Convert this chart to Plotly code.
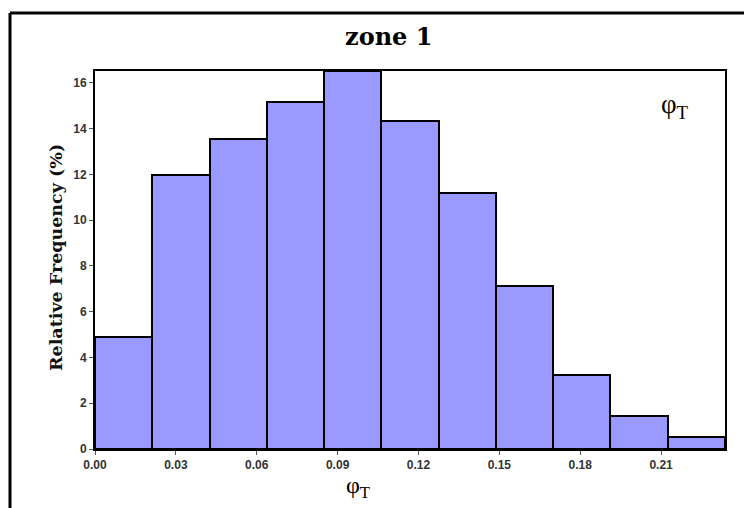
import plotly.graph_objects as go

# Data (zone 1, phi_T)
bin_edges = [0.0, 0.0212, 0.0425, 0.0637, 0.0850, 0.1062, 0.1275, 0.1487,
             0.1700, 0.1912, 0.2125, 0.2337]
rel_freq = [4.88, 11.96, 13.54, 15.18, 16.5, 14.35, 11.2, 7.11, 3.25, 1.43, 0.54]
x_ticks = [0.0, 0.03, 0.06, 0.09, 0.12, 0.15, 0.18, 0.21]
y_ticks = [0, 2, 4, 6, 8, 10, 12, 14, 16]

centers = [(a + b) / 2 for a, b in zip(bin_edges[:-1], bin_edges[1:])]
widths = [b - a for a, b in zip(bin_edges[:-1], bin_edges[1:])]

W, H = 744, 508
L, R, T, B = 95, 19, 71, 59
pw, ph = W - L - R, H - T - B


def px_x(p):
    return (p - L) / pw


def px_y(p):
    return (H - B - p) / ph


fig = go.Figure()
fig.add_trace(go.Bar(
    x=centers, y=rel_freq, width=widths,
    marker=dict(color="#9999ff", line=dict(color="black", width=2)),
    showlegend=False, hoverinfo="skip",
))

tickfont = dict(family="Liberation Sans Narrow, Liberation Sans, Arial", size=12,
                color="#333333", weight="bold")

fig.update_layout(
    width=W, height=H, autosize=False,
    margin=dict(l=L, r=R, t=T, b=B),
    paper_bgcolor="white", plot_bgcolor="white",
    bargap=0,
    xaxis=dict(
        range=[bin_edges[0], bin_edges[-1]],
        tickvals=x_ticks, ticktext=[f"{v:.2f}" for v in x_ticks],
        showline=True, linecolor="black", linewidth=2, mirror=True,
        ticks="outside", ticklen=4, tickcolor="#555555", tickwidth=1,
        showgrid=False, zeroline=False,
        tickfont=tickfont,
    ),
    yaxis=dict(
        range=[0, 16.52],
        tickvals=y_ticks,
        showline=True, linecolor="black", linewidth=2, mirror=True,
        ticks="outside", ticklen=4, tickcolor="#555555", tickwidth=1,
        showgrid=False, zeroline=False,
        tickfont=tickfont,
    ),
)

serif = "Liberation Serif, Times New Roman, serif"
wide_serif = "DejaVu Serif, serif"

fig.add_annotation(
    text="<b>zone 1</b>", xref="paper", yref="paper",
    x=px_x(388), y=px_y(36), xanchor="center", yanchor="middle",
    showarrow=False, font=dict(family=wide_serif, size=24, color="black"),
)
fig.add_annotation(
    text="<b>Relative Frequency (%)</b>", xref="paper", yref="paper",
    x=px_x(56), y=px_y(258), xanchor="center", yanchor="middle",
    textangle=-90, showarrow=False,
    font=dict(family=wide_serif, size=17.5, color="#111111"),
)
fig.add_annotation(
    text="φ<sub>T</sub>", xref="paper", yref="paper",
    x=px_x(358), y=px_y(487), xanchor="center", yanchor="middle",
    showarrow=False, font=dict(family=serif, size=24, color="black"),
)
fig.add_annotation(
    text="φ<sub>T</sub>", xref="paper", yref="paper",
    x=px_x(675), y=px_y(106), xanchor="center", yanchor="middle",
    showarrow=False, font=dict(family=serif, size=27, color="black"),
)

# outer frame (top and left edges visible in the reference)
fig.add_shape(type="line", xref="paper", yref="paper",
              x0=px_x(10), x1=px_x(760), y0=px_y(13), y1=px_y(13),
              line=dict(color="black", width=3))
fig.add_shape(type="line", xref="paper", yref="paper",
              x0=px_x(10), x1=px_x(10), y0=px_y(13), y1=px_y(520),
              line=dict(color="black", width=3))

fig.write_html("out.html", config={"displayModeBar": False},
               post_script="document.body.style.margin='0';")
